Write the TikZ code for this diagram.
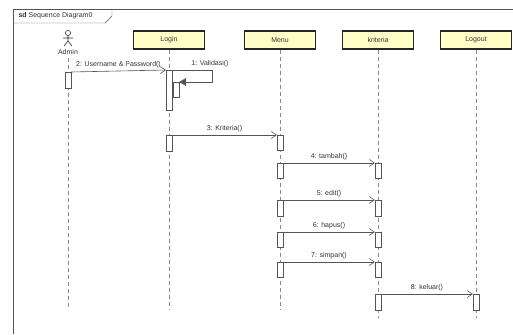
\documentclass[tikz,border=0pt]{standalone}
\usepackage{fontspec}
\setmainfont{Liberation Sans}
\usetikzlibrary{arrows.meta}
\definecolor{headfill}{HTML}{FFFFC6}
\definecolor{linegray}{HTML}{555555}
\definecolor{dashgray}{HTML}{8A8A8A}

\begin{document}
\begin{tikzpicture}[x=1pt,y=-1pt,
		every node/.style={font=\fontsize{7}{8}\selectfont, text=black!80},
		head/.style={draw=black!85, line width=1.1pt, fill=headfill, minimum width=71pt, minimum height=18pt, inner sep=0pt},
		bar/.style={draw=linegray, fill=white, minimum width=6pt, inner sep=0pt, anchor=north},
		lifeline/.style={draw=dashgray, dash pattern=on 4pt off 3pt, line width=0.6pt},
		msg/.style={draw=linegray, line width=0.6pt, -{Straight Barb[length=5pt,width=7pt]}},
		selfmsg/.style={draw=linegray, line width=0.6pt, -{Triangle[length=7pt,width=8pt]}}]
			\useasboundingbox (0,0) rectangle (513,334);
			% frame
			\draw[linegray] (13,334) -- (13,9) -- (513,9);
			\draw[linegray] (13,23) -- (105,23) -- (112,16) -- (112,9);
			\node[anchor=west] (frame) at (15,16) {\textbf{sd} Sequence Diagram0};
			% actor
			\draw[black!80, line width=0.6pt] (68,33) circle (2.6);
			\draw[black!80, line width=0.6pt] (68,35.6) -- (68,41) (63,38) -- (73,38) (64,46) -- (68,41) -- (72,46);
			\node (admin) at (68,52) {Admin};
			% heads
			\node[head] (login) at (169,40) {Login};
			\node[head] (menu) at (280,40) {Menu};
			\node[head] (krit) at (378,40) {kriteria};
			\node[head] (logout) at (476,40) {Logout};
			% lifeline ends
			\coordinate (adminEnd) at (68,310);
			\coordinate (loginEnd) at (169,310);
			\coordinate (menuEnd) at (280,310);
			\coordinate (kritEnd) at (378,318);
			\coordinate (logoutEnd) at (476,318);
			\draw[lifeline] (admin.south) -- (adminEnd);
			\draw[lifeline] (login.south) -- (loginEnd);
			\draw[lifeline] (menu.south) -- (menuEnd);
			\draw[lifeline] (krit.south) -- (kritEnd);
			\draw[lifeline] (logout.south) -- (logoutEnd);
			% activations
			\node[bar, minimum height=16pt] (adminA) at (68,72) {};
			\node[bar, minimum height=40pt] (loginA) at (169,70) {};
			\node[bar, minimum height=15pt] (loginB) at (176,82) {};
			\node[bar, minimum height=16pt] (loginC) at (169,135) {};
			\node[bar, minimum height=15pt] (menu3) at (280,135) {};
			\node[bar, minimum height=15pt] (menu4) at (280,163) {};
			\node[bar, minimum height=15pt] (krit4) at (378,163) {};
			\node[bar, minimum height=16pt] (menu5) at (280,200) {};
			\node[bar, minimum height=16pt] (krit5) at (378,200) {};
			\node[bar, minimum height=15pt] (menu6) at (280,232) {};
			\node[bar, minimum height=15pt] (krit6) at (378,232) {};
			\node[bar, minimum height=15pt] (menu7) at (280,262) {};
			\node[bar, minimum height=15pt] (krit7) at (378,262) {};
			\node[bar, minimum height=16pt] (krit8) at (378,294) {};
			\node[bar, minimum height=16pt] (logout8) at (476,294) {};
			% messages
			\coordinate (valA) at (212,70);
			\coordinate (valB) at (212,82);
			\draw[selfmsg] (loginA.north east) -- (valA) -- (valB) -- (loginB.north east);
			\node[anchor=south] (valLbl) at (210,70) {1: Validasi()};
			\draw[msg] (adminA.north east) -- (loginA.north west) node[midway, above=-1pt] {2: Username \& Password()};
			\draw[msg] (loginC.north east) -- (menu3.north west) node[midway, above=-1pt] {3: Kriteria()};
			\draw[msg] (menu4.north east) -- (krit4.north west) node[midway, above=-1pt] {4: tambah()};
			\draw[msg] (menu5.north east) -- (krit5.north west) node[midway, above=-1pt] {5: edit()};
			\draw[msg] (menu6.north east) -- (krit6.north west) node[midway, above=-1pt] {6: hapus()};
			\draw[msg] (menu7.north east) -- (krit7.north west) node[midway, above=-1pt] {7: simpan()};
			\draw[msg] (krit8.north east) -- (logout8.north west) node[midway, above=-1pt] {8: keluar()};
		\end{tikzpicture}
\end{document}
